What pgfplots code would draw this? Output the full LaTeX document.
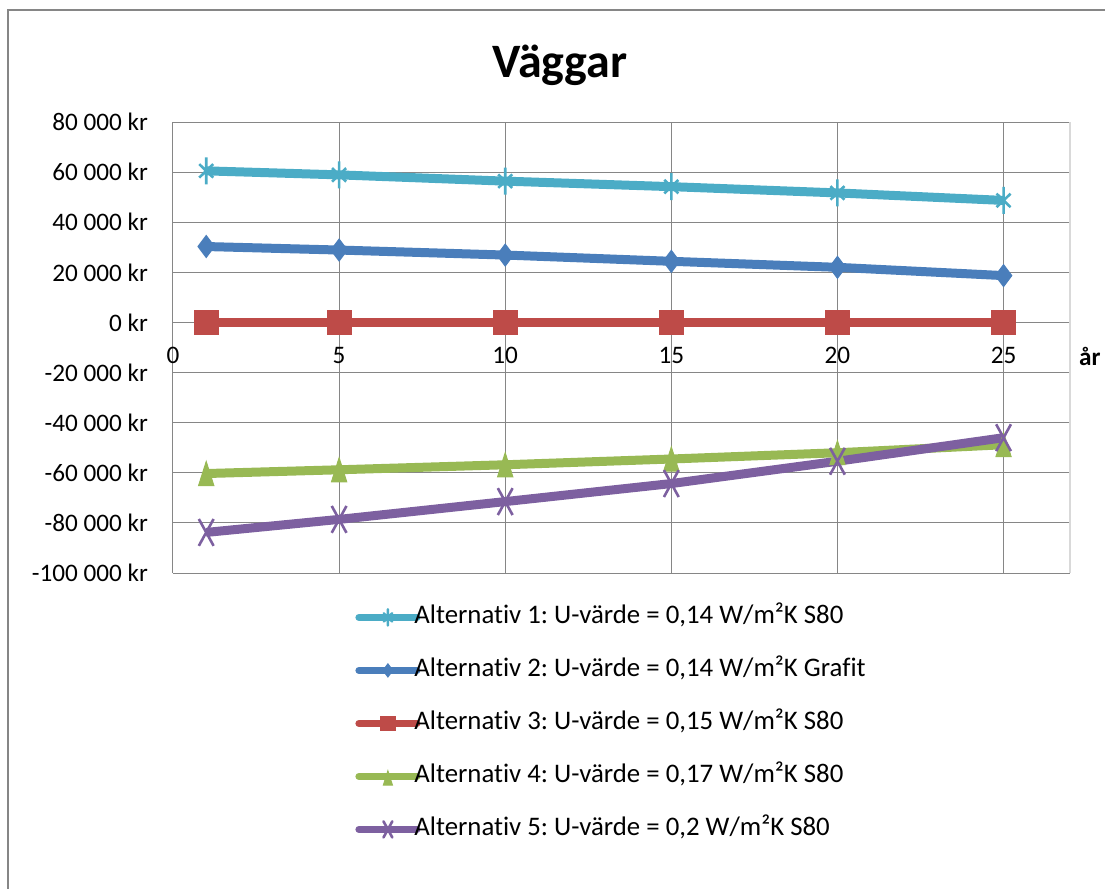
\documentclass[border=0pt]{standalone}
\usepackage{pgfplots}
\pgfplotsset{compat=1.18}
\usepackage{fontspec}
\setmainfont{Carlito}[Ligatures=NoCommon]
\frenchspacing
\definecolor{gridgray}{HTML}{868686}
\definecolor{framegray}{HTML}{D9D9D9}
\definecolor{alt1}{HTML}{4BACC6}
\definecolor{alt2}{HTML}{4A7EBB}
\definecolor{alt3}{HTML}{BE4B48}
\definecolor{alt4}{HTML}{98B954}
\definecolor{alt5}{HTML}{7D60A0}
\begin{document}
\begin{tikzpicture}
\useasboundingbox (0,0) rectangle (552.5pt,-444.5pt);
% chart frame (left and top edges)
\draw[gridgray, line width=1.2pt] (4pt,-444.5pt) -- (4pt,-5pt) -- (552.5pt,-5pt);
\node[font=\fontsize{24}{28}\selectfont\bfseries, anchor=base] at (280pt,-38.5pt) {Väggar};
\begin{axis}[
  at={(86.5pt,-286.5pt)}, anchor=south west,
  scale only axis, width=448.5pt, height=225.5pt,
  xmin=0, xmax=27, ymin=-100000, ymax=80000,
  scaled y ticks=false,
  xtick={0,5,10,15,20,25}, xticklabels={0,5,10,15,20,25},
  ytick={-100000,-80000,-60000,-40000,-20000,0,20000,40000,60000,80000},
  yticklabels={-100 000 kr,-80 000 kr,-60 000 kr,-40 000 kr,-20 000 kr,0 kr,20 000 kr,40 000 kr,60 000 kr,80 000 kr},
  extra x ticks={27}, extra x tick labels={},
  extra x tick style={grid style={framegray, line width=1pt}},
  grid=major, grid style={gridgray, line width=0.5pt},
  axis line style={draw=none},
  major tick length=0pt,
  tick label style={font=\fontsize{12.6}{15}\selectfont},
  xticklabel style={yshift=116.5pt},
  yticklabel style={xshift=-9pt},
  clip=false,
  legend cell align=left,
  legend style={at={(rel axis cs:0.2029,0)}, anchor=north west, yshift=-16pt,
    draw=none, fill=none, inner sep=0pt, row sep=14.5pt,
    font=\fontsize{13.4}{15}\selectfont,
    nodes={inner sep=0pt, text height=9pt, text depth=3pt},
    /tikz/every odd column/.append style={column sep=-3pt}},
  legend image code/.code={
    \draw[mark repeat=2, mark phase=2, #1, line width=3.5pt, line cap=round,
          every mark/.append style={scale=0.6}]
      plot coordinates {(0pt,0pt) (14.5pt,0pt) (29pt,0pt)};
  },
]
\addplot[alt1, line width=4.5pt, mark=asterisk, mark size=6.75pt,
  mark options={solid, line width=1.3pt, xscale=0.6}]
  coordinates {(1,60500) (5,58900) (10,56400) (15,54200) (20,51700) (25,48700)};
\addlegendentry{Alternativ 1: U-värde = 0,14 W/m²K S80}
\addplot[alt2, line width=4.5pt, mark=diamond*, mark size=5.5pt,
  mark options={solid, line width=0.5pt}]
  coordinates {(1,30300) (5,28900) (10,26900) (15,24400) (20,22000) (25,18700)};
\addlegendentry{Alternativ 2: U-värde = 0,14 W/m²K Grafit}
\addplot[alt3, line width=4.5pt, mark=square*, mark size=6pt,
  mark options={solid, line width=0.5pt}]
  coordinates {(1,0) (5,0) (10,0) (15,0) (20,0) (25,0)};
\addlegendentry{Alternativ 3: U-värde = 0,15 W/m²K S80}
\addplot[alt4, line width=4.5pt, mark=triangle*, mark size=8pt,
  mark options={solid, line width=0.5pt, xscale=0.55, yshift=-2pt}]
  coordinates {(1,-60300) (5,-58800) (10,-56800) (15,-54500) (20,-52000) (25,-48800)};
\addlegendentry{Alternativ 4: U-värde = 0,17 W/m²K S80}
\addplot[alt5, line width=4.5pt, mark=x, mark size=9.5pt,
  mark options={solid, line width=1.3pt, xscale=0.55}]
  coordinates {(1,-83800) (5,-78600) (10,-71500) (15,-64300) (20,-55400) (25,-46000)};
\addlegendentry{Alternativ 5: U-värde = 0,2 W/m²K S80}
\node[font=\fontsize{12.6}{15}\selectfont\bfseries] at (axis cs:27.6,-13500) {år};
\end{axis}
\end{tikzpicture}
\end{document}
